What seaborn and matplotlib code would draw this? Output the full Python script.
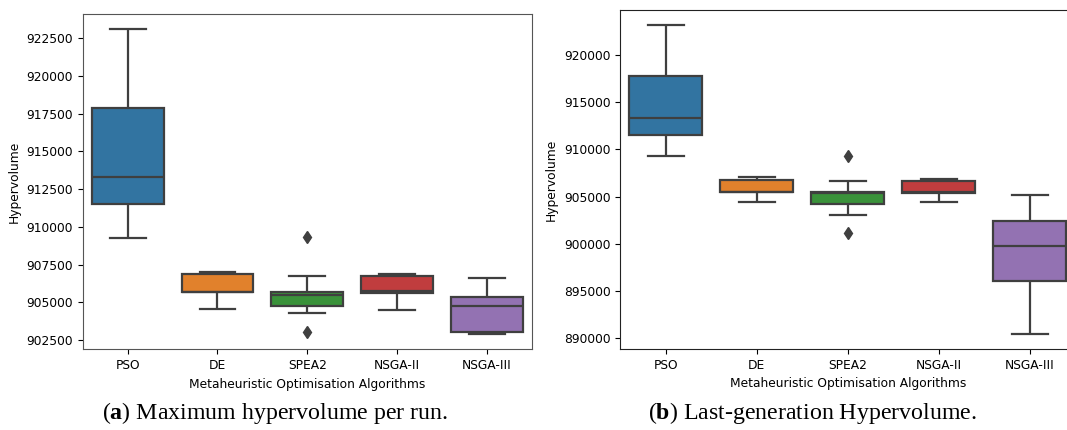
import matplotlib
matplotlib.use("Agg")
import matplotlib.pyplot as plt
import seaborn as sns
import pandas as pd

algorithms = ["PSO", "DE", "SPEA2", "NSGA-II", "NSGA-III"]

# (a) Maximum hypervolume per run -- per-run values
max_pso = [909260, 911534, 913304, 917859, 923097]
max_de = [904533, 905660, 905700, 906893, 907006]
max_spea2 = [903008, 904307, 904732, 905100, 905461, 905560, 905660, 906760, 909346]
max_nsga2 = [904507, 905614, 905746, 906760, 906873]
max_nsga3 = [902895, 903028, 904752, 905368, 906628]

# (b) Last-generation hypervolume -- per-run values
last_pso = [909250, 911510, 913283, 917803, 923109]
last_de = [904400, 905461, 905520, 906767, 907021]
last_spea2 = [901185, 903020, 904188, 904800, 905323, 905400, 905461, 906660, 909250]
last_nsga2 = [904432, 905387, 905460, 906628, 906873]
last_nsga3 = [890498, 896016, 899806, 902384, 905144]

captions = ["Maximum hypervolume per run.", "Last-generation Hypervolume."]
caption_tags = ["a", "b"]
xlabel = "Metaheuristic Optimisation Algorithms"
ylabel = "Hypervolume"


def long_frame(groups):
    rows = []
    for name, vals in zip(algorithms, groups):
        for v in vals:
            rows.append({"Algorithm": name, "Hypervolume": v})
    return pd.DataFrame(rows)


df_max = long_frame([max_pso, max_de, max_spea2, max_nsga2, max_nsga3])
df_last = long_frame([last_pso, last_de, last_spea2, last_nsga2, last_nsga3])

plt.rcParams["mathtext.fontset"] = "custom"
plt.rcParams["mathtext.rm"] = "Liberation Serif"
plt.rcParams["mathtext.bf"] = "Liberation Serif:bold"

W, H = 1067, 430
fig = plt.figure(figsize=(W / 100, H / 100), dpi=100)
ax1 = fig.add_axes([82.7 / W, (H - 349.3) / H, (532 - 82.7) / W, (349.3 - 14) / H])
ax2 = fig.add_axes([620.2 / W, (H - 349) / H, 455 / W, (349 - 10) / H])

palette = sns.color_palette("tab10", 5)
line_col = "#3f3f3f"
for ax, df, spine_col in [(ax1, df_max, "#555555"), (ax2, df_last, "#222222")]:
    sns.boxplot(
        data=df, x="Algorithm", y="Hypervolume", hue="Algorithm",
        order=algorithms, hue_order=algorithms, palette=palette,
        saturation=0.75, width=0.8, linewidth=1.6, linecolor=line_col,
        legend=False, ax=ax,
        flierprops=dict(marker="d", markersize=6, markerfacecolor=line_col,
                        markeredgecolor=line_col),
    )
    ax.set_xlabel(xlabel, fontsize=8.8)
    ax.set_ylabel(ylabel, fontsize=8.8)
    ax.tick_params(axis="both", labelsize=8.8)
    for s in ax.spines.values():
        s.set_color(spine_col)

ax1.set_yticks([902500, 905000, 907500, 910000, 912500, 915000, 917500, 920000, 922500])
ax2.set_yticks([890000, 895000, 900000, 905000, 910000, 915000, 920000])

fig.text(275 / W, 1 - 413 / H, r"($\mathbf{%s}$) %s" % (caption_tags[0], captions[0]),
         ha="center", va="center", fontsize=17.2, family="Liberation Serif")
fig.text(812 / W, 1 - 413 / H, r"($\mathbf{%s}$) %s" % (caption_tags[1], captions[1]),
         ha="center", va="center", fontsize=17.2, family="Liberation Serif")

fig.savefig("out.png", dpi=100)
